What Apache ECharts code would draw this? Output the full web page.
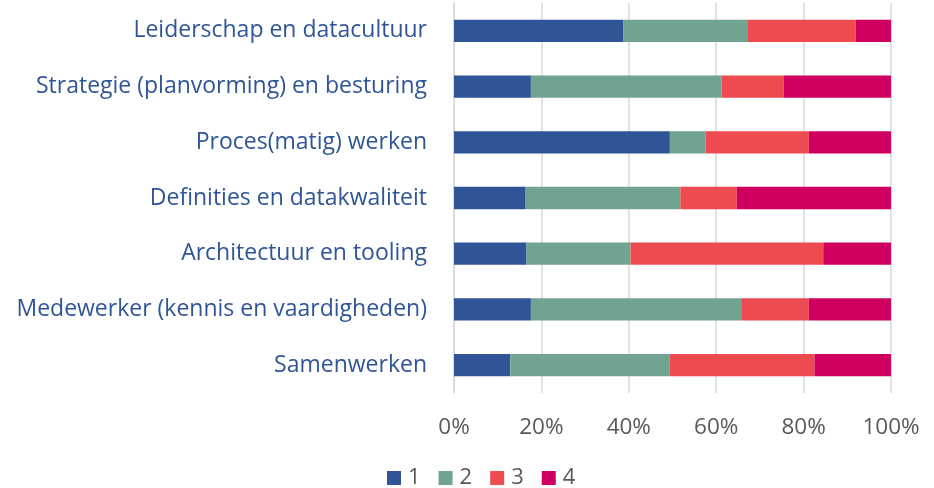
<!DOCTYPE html>
<html>
<head>
<meta charset="utf-8">
<script src="https://cdn.jsdelivr.net/npm/echarts@6/dist/echarts.min.js"></script>
<style>
  html, body { margin: 0; padding: 0; background: #fff; }
  #chart { width: 934px; height: 488px; }
</style>
</head>
<body>
<div id="chart"></div>
<script>
// categorieën (van boven naar beneden)
const categories = [
  'Leiderschap en datacultuur',
  'Strategie (planvorming) en besturing',
  'Proces(matig) werken',
  'Definities en datakwaliteit',
  'Architectuur en tooling',
  'Medewerker (kennis en vaardigheden)',
  'Samenwerken'
]
const seriesNames = ['1', '2', '3', '4']
// aandelen in procenten
const values1 = [38.7, 17.6, 49.4, 16.4, 16.6, 17.6, 12.9]
const values2 = [28.4, 43.6, 8.2, 35.4, 23.8, 48.3, 36.5]
const values3 = [24.8, 14.2, 23.6, 12.9, 44.1, 15.3, 33.1]
const values4 = [8.1, 24.6, 18.8, 35.3, 15.5, 18.8, 17.5]
const colors = ['#2F5597', '#70A490', '#EE4B51', '#D00060']

const font = '"Open Sans", sans-serif'
const allValues = [values1, values2, values3, values4]

const chart = echarts.init(document.getElementById('chart'))
chart.setOption({
  backgroundColor: '#fff',
  color: colors,
  animation: false,
  textStyle: { fontFamily: font },
  legend: {
    data: seriesNames,
    left: 387,
    top: 467,
    padding: 0,
    itemWidth: 14,
    itemHeight: 14,
    itemGap: 18,
    icon: 'rect',
    textStyle: { color: '#595959', fontSize: 22, lineHeight: 22, fontFamily: font, padding: [0, 0, 0, 2] }
  },
  grid: {
    left: 454,
    right: 43,
    top: 3,
    bottom: 95
  },
  xAxis: {
    type: 'value',
    min: 0,
    max: 100,
    interval: 20,
    axisLabel: {
      formatter: '{value}%',
      color: '#595959',
      fontSize: 22.5,
      fontFamily: font,
      margin: 23
    },
    axisLine: { show: false },
    axisTick: { show: false },
    splitLine: { lineStyle: { color: '#D9D9D9', width: 1.5 } }
  },
  yAxis: {
    type: 'category',
    inverse: true,
    data: categories,
    axisLabel: {
      color: '#2F5597',
      fontSize: 23,
      fontFamily: font,
      margin: 27
    },
    axisLine: { show: true, lineStyle: { color: '#D9D9D9', width: 1.5 } },
    axisTick: { show: false }
  },
  series: seriesNames.map((name, i) => ({
    name: name,
    type: 'bar',
    stack: 'totaal',
    barWidth: '40%',
    data: allValues[i]
  }))
})
</script>
</body>
</html>
